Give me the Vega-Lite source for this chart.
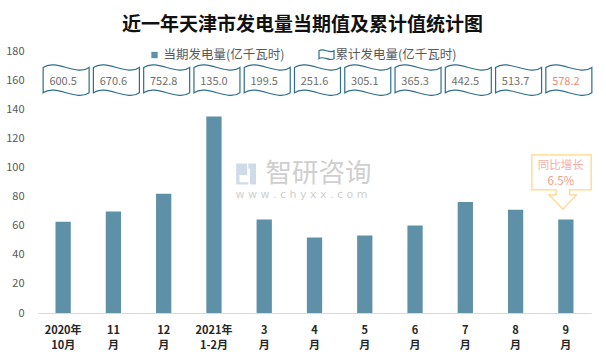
{
  "$schema": "https://vega.github.io/schema/vega-lite/v6.json",
  "width": 553,
  "height": 262,
  "autosize": {"type": "none"},
  "padding": {"left": 38, "top": 51, "right": 15, "bottom": 50},
  "background": "white",
  "title": {
    "text": "近一年天津市发电量当期值及累计值统计图",
    "font": "Noto Sans CJK SC",
    "fontSize": 19,
    "fontWeight": "bold",
    "color": "#111111",
    "anchor": "middle",
    "dx": -12,
    "offset": 10
  },
  "data": {
    "values": [
      {"m": "2020年|10月", "v": 62.7, "c": 600.5},
      {"m": "11|月", "v": 69.8, "c": 670.6},
      {"m": "12|月", "v": 82.0, "c": 752.8},
      {"m": "2021年|1-2月", "v": 135.0, "c": 135.0},
      {"m": "3|月", "v": 64.3, "c": 199.5},
      {"m": "4|月", "v": 51.9, "c": 251.6},
      {"m": "5|月", "v": 53.3, "c": 305.1},
      {"m": "6|月", "v": 60.1, "c": 365.3},
      {"m": "7|月", "v": 76.2, "c": 442.5},
      {"m": "8|月", "v": 71.0, "c": 513.7},
      {"m": "9|月", "v": 64.3, "c": 578.2}
    ]
  },
  "encoding": {
    "x": {
      "field": "m",
      "type": "nominal",
      "sort": null,
      "scale": {
        "domain": ["2020年|10月", "11|月", "12|月", "2021年|1-2月", "3|月", "4|月", "5|月", "6|月", "7|月", "8|月", "9|月"],
        "paddingInner": 0,
        "paddingOuter": 0
      },
      "axis": {
        "title": null,
        "labelAngle": 0,
        "labelExpr": "split(datum.label, '|')",
        "labelFont": "Noto Sans CJK SC",
        "labelFontSize": 11,
        "labelFontWeight": "bold",
        "labelColor": "#262626",
        "labelLineHeight": 15,
        "labelPadding": 11,
        "ticks": false,
        "domainColor": "#d9d9d9",
        "domainWidth": 1
      }
    },
    "y": {
      "type": "quantitative",
      "scale": {"domain": [0, 180], "nice": false},
      "axis": {
        "title": null,
        "values": [0, 20, 40, 60, 80, 100, 120, 140, 160, 180],
        "domain": false,
        "ticks": false,
        "grid": false,
        "labelOverlap": false,
        "labelPadding": 14,
        "labelFont": "Noto Sans CJK SC",
        "labelFontSize": 11,
        "labelColor": "#595959"
      }
    }
  },
  "layer": [
    {
      "data": {"values": [{"k": 1}]},
      "mark": {
        "type": "point",
        "shape": "M-2.55,-0.95 L-1.55,-0.95 L-1.55,0.1 L-2.25,0.1 L-2.25,0.75 L-1.45,0.75 L-1.45,0.95 L-2.55,0.95 Z M-1.45,-0.95 L-0.75,-0.95 L-0.75,0.95 L-1.3,0.95 L-1.3,-0.5 L-1.45,-0.5 Z",
        "size": 484,
        "filled": true,
        "fill": "#cfdbe8",
        "opacity": 1
      },
      "encoding": {"x": {"datum": "3|月"}, "y": {"datum": 95.5}}
    },
    {
      "data": {"values": [{"k": 1}]},
      "mark": {"type": "text", "font": "Noto Sans CJK SC", "fontSize": 26.5, "color": "#cfcfcf", "dx": 4},
      "encoding": {"x": {"datum": "4|月"}, "y": {"datum": 95.2}, "text": {"value": "智研咨询"}}
    },
    {
      "data": {"values": [{"k": 1}]},
      "mark": {"type": "text", "font": "DejaVu Sans", "fontSize": 11, "color": "#cfcfcf", "dx": -13},
      "encoding": {"x": {"datum": "4|月"}, "y": {"datum": 81.2}, "text": {"value": "w w w . c h y x x . c o m"}}
    },
    {
      "mark": {"type": "bar", "width": {"band": 0.304}},
      "encoding": {
        "y": {"field": "v"},
        "color": {
          "datum": "当期发电量(亿千瓦时)",
          "scale": {
            "domain": ["当期发电量(亿千瓦时)", "累计发电量(亿千瓦时)"],
            "range": ["#5E91A7", "#FFFFFF"]
          },
          "legend": {
            "title": null,
            "orient": "none",
            "legendX": 108,
            "legendY": -5,
            "direction": "horizontal",
            "padding": 0,
            "symbolSize": 225,
            "labelOffset": 0.5,
            "columnPadding": 31,
            "labelFont": "Noto Sans CJK SC",
            "labelFontSize": 12.5,
            "labelColor": "#595959",
            "encode": {
              "symbols": {
                "update": {
                  "shape": {"signal": "datum.value === '当期发电量(亿千瓦时)' ? 'square' : 'M-1,-0.5 C-0.45,-0.95 0.45,-0.05 1,-0.5 L1,0.55 C0.45,1.0 -0.45,0.1 -1,0.55 Z'"},
                  "size": {"signal": "datum.value === '当期发电量(亿千瓦时)' ? 40 : 225"},
                  "fill": {"signal": "datum.value === '当期发电量(亿千瓦时)' ? '#5E91A7' : '#FFFFFF'"},
                  "stroke": {"signal": "datum.value === '当期发电量(亿千瓦时)' ? null : '#2F6F8C'"},
                  "strokeWidth": {"value": 1.2},
                  "opacity": {"value": 1}
                }
              }
            }
          }
        }
      }
    },
    {
      "mark": {
        "type": "point",
        "shape": "M-0.87,-0.55 C-0.32,-0.95 0.58,-0.15 1.13,-0.55 L1.13,0.55 C0.58,0.95 -0.32,0.15 -0.87,0.55 Z",
        "size": 2116,
        "filled": true,
        "opacity": 1,
        "stroke": "#2F6F8C",
        "strokeWidth": 1.2
      },
      "encoding": {
        "y": {"datum": 160},
        "color": {"datum": "累计发电量(亿千瓦时)"}
      }
    },
    {
      "mark": {"type": "text", "font": "Noto Sans CJK SC", "fontSize": 11, "baseline": "middle", "dy": 2},
      "encoding": {
        "y": {"datum": 160},
        "text": {"field": "c", "type": "quantitative", "format": ".1f"},
        "color": {"condition": {"test": "datum.m === '9|月'", "value": "#F08C70"}, "value": "#707070"}
      }
    },
    {
      "data": {"values": [{"k": 1}]},
      "mark": {
        "type": "point",
        "shape": "M-1.133,-0.42 L0.843,-0.42 L0.843,0.747 L0.127,0.747 L0.127,0.913 L0.357,0.913 L-0.1,1.39 L-0.557,0.913 L-0.327,0.913 L-0.327,0.747 L-1.133,0.747 Z",
        "size": 3600,
        "filled": true,
        "fill": "#FFFFFF",
        "opacity": 1,
        "stroke": "#FFD68A",
        "strokeWidth": 1.3
      },
      "encoding": {"x": {"datum": "9|月"}, "y": {"datum": 100}}
    },
    {
      "data": {"values": [{"k": 1}]},
      "mark": {"type": "text", "font": "Noto Sans CJK SC", "fontSize": 11.5, "fontWeight": "normal", "color": "#F5AFA8", "baseline": "middle", "dx": -5},
      "encoding": {"x": {"datum": "9|月"}, "y": {"datum": 101.3}, "text": {"value": "同比增长"}}
    },
    {
      "data": {"values": [{"k": 1}]},
      "mark": {"type": "text", "font": "Noto Sans CJK SC", "fontSize": 11.5, "fontWeight": "normal", "color": "#F3A088", "baseline": "middle", "dx": -5},
      "encoding": {"x": {"datum": "9|月"}, "y": {"datum": 89.9}, "text": {"value": "6.5%"}}
    }
  ],
  "config": {
    "view": {"stroke": null},
    "font": "Noto Sans CJK SC",
    "axis": {"labelOverlap": false}
  }
}
